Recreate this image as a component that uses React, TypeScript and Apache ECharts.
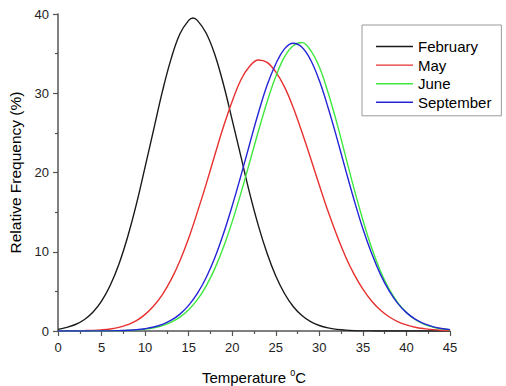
import React, { useEffect, useRef } from "react";
import * as echarts from "echarts";

const temperatures = [
  0, 1, 2, 3, 4, 5, 6, 7, 8, 9, 10, 11, 12, 13, 14, 15, 16, 17, 18, 19, 20, 21, 22,
  23, 24, 25, 26, 27, 28, 29, 30, 31, 32, 33, 34, 35, 36, 37, 38, 39, 40, 41, 42, 43,
  44, 45,
];

// February peaks between whole degrees, so its own temperature list holds 15.5
const februaryTemperatures = [
  0, 1, 2, 3, 4, 5, 6, 7, 8, 9, 10, 11, 12, 13, 14, 15, 15.5, 16, 17, 18, 19, 20, 21,
  22, 23, 24, 25, 26, 27, 28, 29, 30, 31, 32, 33, 34, 35, 36, 37, 38, 39, 40, 41, 42,
  43, 44, 45,
];

const february = [
  0.2, 0.45, 0.82, 1.42, 2.36, 3.77, 5.77, 8.46, 11.9, 16.0, 20.7, 25.5, 30.3, 34.4,
  37.5, 39.2, 39.5, 39.2, 37.6, 34.9, 31.1, 26.6, 22.0, 17.4, 13.3, 9.8, 6.93, 4.73,
  3.09, 1.95, 1.18, 0.69, 0.39, 0.21, 0.11, 0.05, 0.02, 0.01, 0, 0, 0, 0, 0, 0, 0, 0, 0,
];

const may = [
  0.01, 0.01, 0.03, 0.05, 0.08, 0.14, 0.25, 0.45, 0.8, 1.3, 2.1, 3.19, 4.63, 6.51,
  8.87, 11.7, 15.0, 18.5, 22.2, 25.8, 29.0, 31.7, 33.4, 34.2, 33.9, 32.7, 30.8, 28.2,
  25.1, 21.8, 18.4, 15.1, 12.1, 9.41, 7.14, 5.27, 3.79, 2.65, 1.8, 1.19, 0.77, 0.48,
  0.3, 0.18, 0.1, 0.06,
];

const june = [
  0, 0, 0, 0, 0.01, 0.01, 0.02, 0.04, 0.07, 0.13, 0.23, 0.4, 0.68, 1.11, 1.75, 2.67,
  3.95, 5.67, 7.87, 10.6, 13.8, 17.4, 21.3, 25.2, 28.9, 32.1, 34.6, 36.0, 36.4, 35.4,
  33.3, 30.1, 26.3, 22.1, 17.9, 14.0, 10.5, 7.61, 5.31, 3.58, 2.32, 1.45, 0.87, 0.51,
  0.28, 0.15,
];

const september = [
  0, 0, 0, 0, 0.01, 0.01, 0.02, 0.05, 0.09, 0.16, 0.29, 0.5, 0.84, 1.36, 2.13, 3.23,
  4.74, 6.72, 9.23, 12.3, 15.8, 19.6, 23.6, 27.5, 31.0, 33.7, 35.6, 36.3, 35.8, 34.2,
  31.6, 28.2, 24.4, 20.4, 16.5, 12.9, 9.8, 7.18, 5.09, 3.49, 2.32, 1.49, 0.92, 0.56,
  0.32, 0.18,
];

const seriesNames = ["February", "May", "June", "September"];
const seriesTemperatures = [februaryTemperatures, temperatures, temperatures, temperatures];
const seriesValues = [february, may, june, september];
const seriesColors = ["#1a1a1a", "#e8302f", "#3ee83e", "#2424d6"];

const FONT = "'Liberation Sans', Arial, sans-serif";

export default function App() {
  const ref = useRef<HTMLDivElement>(null);

  useEffect(() => {
    if (!ref.current) return;
    const chart = echarts.init(ref.current, undefined, { renderer: "svg" });
    const axisColor = "#555";
    chart.setOption({
      animation: false,
      backgroundColor: "#fff",
      textStyle: { fontFamily: FONT },
      grid: { left: 58, right: 56, top: 14, bottom: 55, containLabel: false, outerBoundsMode: "none" },
      legend: {
        orient: "vertical",
        left: 362,
        top: 25,
        padding: [14, 10, 6, 14],
        borderColor: "#999",
        borderWidth: 1,
        icon: "rect",
        itemWidth: 37,
        itemHeight: 1.4,
        itemGap: 3.6,
        textStyle: { fontSize: 15, color: "#000", fontFamily: FONT },
        data: seriesNames,
      },
      xAxis: {
        type: "value",
        min: 0,
        max: 45,
        interval: 5,
        name: "Temperature {sup|0}C",
        nameLocation: "middle",
        nameGap: 37,
        nameTextStyle: {
          fontSize: 15,
          color: "#000",
          fontFamily: FONT,
          rich: {
            sup: { fontSize: 9, verticalAlign: "top", padding: [0, 0, 9, 0], color: "#000", fontFamily: FONT },
          },
        },
        axisLine: { show: true, onZero: false, lineStyle: { color: axisColor, width: 1.5 } },
        axisTick: { show: true, inside: false, length: 5, lineStyle: { color: axisColor, width: 1.2 } },
        minorTick: { show: true, splitNumber: 2, length: 3, lineStyle: { color: axisColor, width: 1.2 } },
        splitLine: { show: false },
        axisLabel: { fontSize: 13, color: "#222", margin: 10, fontFamily: FONT },
      },
      yAxis: {
        type: "value",
        min: 0,
        max: 40,
        interval: 10,
        name: "Relative Frequency (%)",
        nameLocation: "middle",
        nameGap: 27,
        nameTextStyle: { fontSize: 15.5, color: "#000", fontFamily: FONT },
        axisLine: { show: true, lineStyle: { color: axisColor, width: 1.5 } },
        axisTick: { show: true, inside: false, length: 5, lineStyle: { color: axisColor, width: 1.2 } },
        minorTick: { show: true, splitNumber: 2, length: 3, lineStyle: { color: axisColor, width: 1.2 } },
        splitLine: { show: false },
        axisLabel: { fontSize: 13, color: "#222", margin: 9, fontFamily: FONT },
      },
      series: seriesNames.map((name, i) => ({
        name,
        type: "line",
        symbol: "none",
        smooth: 0.4,
        color: seriesColors[i],
        lineStyle: { color: seriesColors[i], width: 1.4 },
        data: seriesTemperatures[i].map((t, j) => [t, seriesValues[i][j]]),
      })),
    });
    return () => chart.dispose();
  }, []);

  return (
    <div
      ref={ref}
      style={{ position: "absolute", left: 0, top: 0, width: 506, height: 386 }}
    />
  );
}
